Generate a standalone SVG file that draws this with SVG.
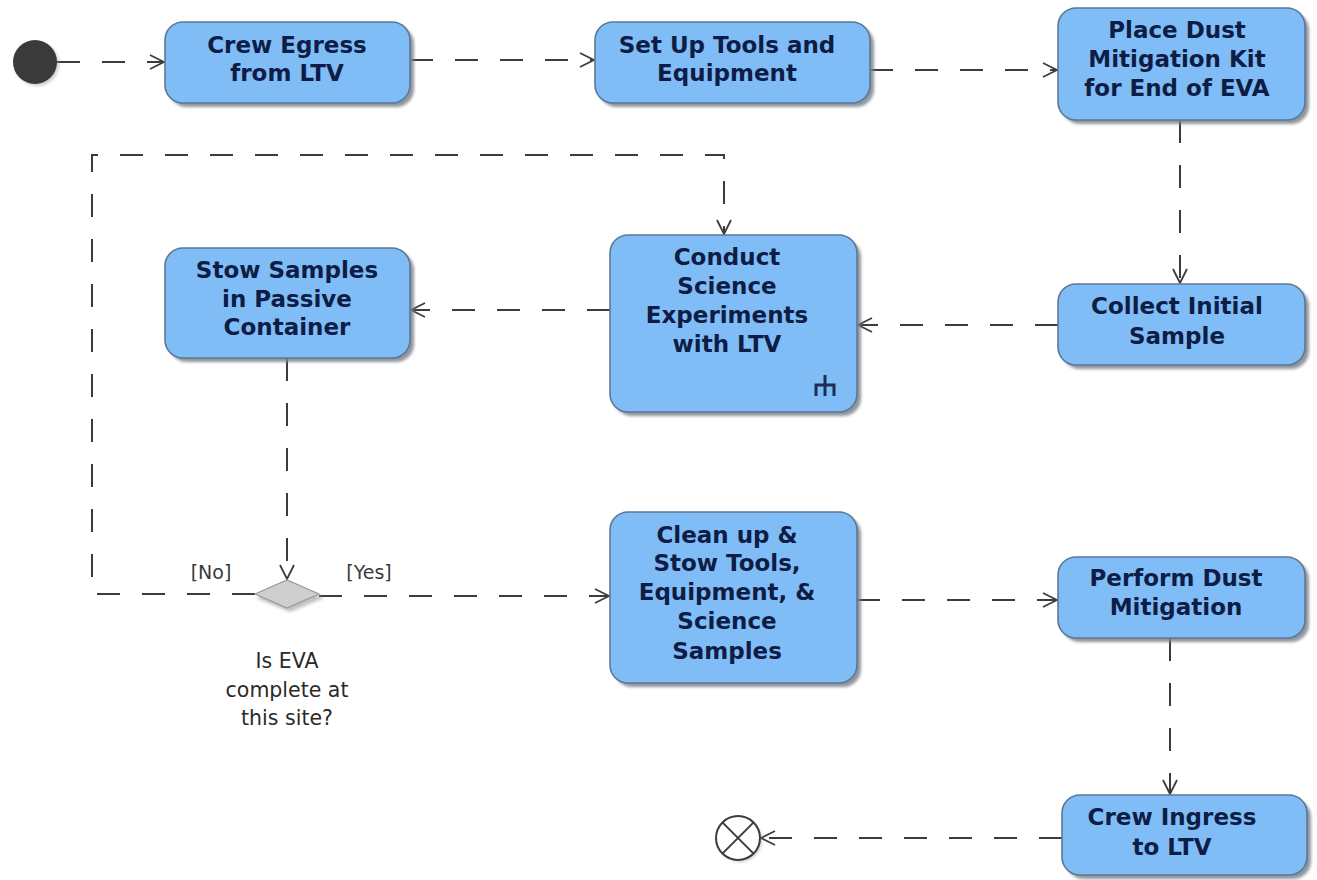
<svg xmlns="http://www.w3.org/2000/svg" width="1317" height="880" viewBox="0 0 1317 880">
  <style>
    .box { fill: #80bcf6; stroke: #5b7896; stroke-width: 1.6; }
    .shadow { fill: #7d838c; opacity: 0.85; filter: url(#soft); }
    .lbl { font-family: "DejaVu Sans", "Liberation Sans", sans-serif; font-weight: bold; font-size: 23px; fill: #0d1d45; text-anchor: middle; }
    .guard { font-family: "DejaVu Sans", "Liberation Sans", sans-serif; font-size: 19px; fill: #3a3a3a; text-anchor: middle; }
    .note { font-family: "DejaVu Sans", "Liberation Sans", sans-serif; font-size: 20.5px; fill: #2a2a2a; text-anchor: middle; }
    .flow { fill: none; stroke: #3c3c3c; stroke-width: 2; stroke-dasharray: 23 22; marker-end: url(#open); }
  </style>
  <defs>
    <filter id="soft" x="-10%" y="-10%" width="130%" height="130%">
      <feGaussianBlur stdDeviation="1.5"/>
    </filter>
    <marker id="open" viewBox="0 0 16 16" refX="15" refY="8" markerWidth="16" markerHeight="16" markerUnits="userSpaceOnUse" orient="auto">
      <path d="M1,1 L15,8 L1,15" fill="none" stroke="#3c3c3c" stroke-width="1.8"/>
    </marker>
  </defs>

  <rect width="1317" height="880" fill="#ffffff"/>

  <!-- control flows -->
  <g id="connectors">
    <path class="flow" d="M57,62 H164"/>
    <path class="flow" d="M410,60 H594"/>
    <path class="flow" d="M870,70 H1057"/>
    <path class="flow" d="M1180,120 V283"/>
    <path class="flow" d="M1058,325 H858"/>
    <path class="flow" d="M610,310 H411"/>
    <path class="flow" d="M287,358 V579"/>
    <path class="flow" d="M255,594 H92 V155 H724 V234"/>
    <path class="flow" d="M319,596 H609"/>
    <path class="flow" d="M857,600 H1057"/>
    <path class="flow" d="M1170,638 V794"/>
    <path class="flow" d="M1062,838 H761"/>
  </g>

  <!-- initial node -->
  <g id="start">
    <circle cx="37" cy="64" r="22" fill="#9a9a9a" opacity="0.5" filter="url(#soft)"/>
    <circle cx="35" cy="62" r="22" fill="#3a3a3a"/>
  </g>

  <g id="crew-egress">
    <rect class="shadow" x="169" y="26" width="245" height="81" rx="18"/>
    <rect class="box" x="165" y="22" width="245" height="81" rx="18"/>
    <text class="lbl" x="287" y="53">Crew Egress</text>
    <text class="lbl" x="287" y="81">from LTV</text>
  </g>

  <g id="set-up-tools">
    <rect class="shadow" x="599" y="26" width="275" height="81" rx="18"/>
    <rect class="box" x="595" y="22" width="275" height="81" rx="18"/>
    <text class="lbl" x="727" y="53">Set Up Tools and</text>
    <text class="lbl" x="727" y="81">Equipment</text>
  </g>

  <g id="place-dust-kit">
    <rect class="shadow" x="1062" y="12" width="247" height="112" rx="18"/>
    <rect class="box" x="1058" y="8" width="247" height="112" rx="18"/>
    <text class="lbl" x="1177" y="38">Place Dust</text>
    <text class="lbl" x="1177" y="67">Mitigation Kit</text>
    <text class="lbl" x="1177" y="96">for End of EVA</text>
  </g>

  <g id="collect-sample">
    <rect class="shadow" x="1062" y="288" width="247" height="81" rx="18"/>
    <rect class="box" x="1058" y="284" width="247" height="81" rx="18"/>
    <text class="lbl" x="1177" y="314">Collect Initial</text>
    <text class="lbl" x="1177" y="344">Sample</text>
  </g>

  <g id="conduct-science">
    <rect class="shadow" x="614" y="239" width="247" height="177" rx="18"/>
    <rect class="box" x="610" y="235" width="247" height="177" rx="18"/>
    <text class="lbl" x="727" y="265">Conduct</text>
    <text class="lbl" x="727" y="294">Science</text>
    <text class="lbl" x="727" y="323">Experiments</text>
    <text class="lbl" x="727" y="352">with LTV</text>
    <!-- call-behavior rake -->
    <path d="M825,375 V385 M816,396 V385 H834 V396 M825,385 V396" fill="none" stroke="#1c2e55" stroke-width="3"/>
  </g>

  <g id="stow-samples">
    <rect class="shadow" x="169" y="252" width="245" height="110" rx="18"/>
    <rect class="box" x="165" y="248" width="245" height="110" rx="18"/>
    <text class="lbl" x="287" y="278">Stow Samples</text>
    <text class="lbl" x="287" y="307">in Passive</text>
    <text class="lbl" x="287" y="335">Container</text>
  </g>

  <g id="eva-decision">
    <polygon points="256,598 290,584 324,598 290,612" fill="#9a9a9a" opacity="0.6" filter="url(#soft)"/>
    <polygon points="255,594 287,580 319,594 287,608" fill="#cfcfcf" stroke="#9a9a9a" stroke-width="1.2"/>
    <text class="guard" x="211" y="579">[No]</text>
    <text class="guard" x="369" y="579">[Yes]</text>
    <text class="note" x="287" y="668">Is EVA</text>
    <text class="note" x="287" y="697">complete at</text>
    <text class="note" x="287" y="725">this site?</text>
  </g>

  <g id="clean-up">
    <rect class="shadow" x="614" y="516" width="247" height="171" rx="18"/>
    <rect class="box" x="610" y="512" width="247" height="171" rx="18"/>
    <text class="lbl" x="727" y="543">Clean up &amp;</text>
    <text class="lbl" x="727" y="571">Stow Tools,</text>
    <text class="lbl" x="727" y="600">Equipment, &amp;</text>
    <text class="lbl" x="727" y="629">Science</text>
    <text class="lbl" x="727" y="659">Samples</text>
  </g>

  <g id="perform-dust-mitigation">
    <rect class="shadow" x="1062" y="561" width="247" height="81" rx="18"/>
    <rect class="box" x="1058" y="557" width="247" height="81" rx="18"/>
    <text class="lbl" x="1176" y="586">Perform Dust</text>
    <text class="lbl" x="1176" y="615">Mitigation</text>
  </g>

  <g id="crew-ingress">
    <rect class="shadow" x="1066" y="799" width="245" height="80" rx="18"/>
    <rect class="box" x="1062" y="795" width="245" height="80" rx="18"/>
    <text class="lbl" x="1172" y="825">Crew Ingress</text>
    <text class="lbl" x="1172" y="855">to LTV</text>
  </g>

  <!-- flow final node -->
  <g id="final">
    <circle cx="740" cy="840" r="22" fill="#9a9a9a" opacity="0.5" filter="url(#soft)"/>
    <circle cx="738" cy="838" r="22" fill="#ffffff" stroke="#3c3c3c" stroke-width="2"/>
    <path d="M722.4,822.4 L753.6,853.6 M753.6,822.4 L722.4,853.6" stroke="#3c3c3c" stroke-width="2"/>
  </g>
</svg>
